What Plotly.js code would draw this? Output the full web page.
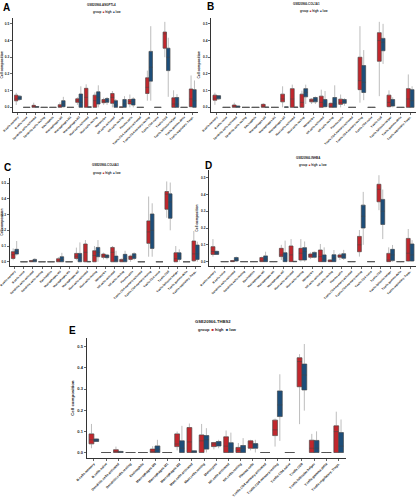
<!DOCTYPE html>
<html><head><meta charset="utf-8">
<script src="https://cdn.plot.ly/plotly-3.0.1.min.js"></script>
<style>html,body{margin:0;padding:0;background:#fff}#c{width:417px;height:500px}</style>
</head><body><div id="c"></div>
<script>
const categories = ["B.cells.memory","B.cells.naive","Dendritic.cells.activated","Dendritic.cells.resting","Eosinophils","Macrophages.M0","Macrophages.M1","Macrophages.M2","Mast.cells.activated","Mast.cells.resting","Monocytes","NK.cells.activated","NK.cells.resting","Plasma.cells","T.cells.CD4.memory.activated","T.cells.CD4.memory.resting","T.cells.CD4.naive","T.cells.CD8","T.cells.follicular.helper","T.cells.gamma.delta","T.cells.regulatory..Tregs."];
const groups = ["high","low"];
const panelTitles = ["GSE20966-ANGPTL4","GSE20966-COL1A1","GSE20966-COL6A3","GSE20966-INHBA","GSE20966-THBS2"];
const panelLetters = ["A","B","C","D","E"];
const tickVals = [0,0.1,0.2,0.3,0.4,0.5];
const Z = [0,0,0,0,0];
// each entry: [lower whisker, q1, median, q3, upper whisker]
const aHigh = [[0.014,0.039,0.05,0.073,0.087],Z,[0,0,0.004,0.012,0.028],Z,Z,[0,0,0.005,0.016,0.03],Z,[0.015,0.03,0.04,0.051,0.06],[0,0,0.06,0.114,0.138],[0,0,0.04,0.073,0.09],[0.015,0.028,0.036,0.047,0.058],[0,0.024,0.06,0.083,0.098],[0,0,0,0.003,0.006],[0,0.02,0.035,0.047,0.077],Z,[0.04,0.083,0.12,0.177,0.22],Z,[0.3,0.354,0.44,0.451,0.512],[0,0,0.02,0.057,0.102],Z,[0,0.004,0.05,0.11,0.191]];
const aLow = [[0.04,0.047,0.058,0.067,0.072],Z,[0,0,0.002,0.005,0.008],Z,Z,[0,0.004,0.02,0.04,0.063],Z,[0,0,0.03,0.08,0.126],[0,0,0,0.004,0.006],[0,0.02,0.06,0.093,0.132],[0.015,0.03,0.04,0.053,0.062],[0,0,0.015,0.04,0.05],[0,0,0.02,0.047,0.067],[0,0.014,0.03,0.05,0.06],Z,[0.04,0.157,0.24,0.335,0.486],Z,[0.063,0.22,0.3,0.354,0.417],[0,0,0.02,0.059,0.079],Z,[0,0,0.04,0.106,0.161]];
const bHigh = [[0.015,0.043,0.055,0.073,0.088],Z,[0,0,0.004,0.014,0.028],Z,Z,[0,0,0.005,0.018,0.025],Z,[0,0.033,0.05,0.079,0.126],[0,0,0.05,0.112,0.136],[0,0,0.03,0.079,0.1],[0.02,0.033,0.04,0.049,0.055],[0,0,0.03,0.067,0.106],[0,0,0.005,0.024,0.03],[0,0.018,0.03,0.049,0.077],Z,[0.028,0.106,0.16,0.3,0.486],Z,[0.067,0.276,0.4,0.447,0.512],[0,0.004,0.03,0.073,0.102],Z,[0,0,0.05,0.112,0.197]];
const bLow = [[0.045,0.051,0.062,0.07,0.074],Z,[0,0,0.002,0.008,0.01],Z,Z,[0,0,0,0.002,0.004],Z,[0,0,0,0.003,0.005],[0,0,0,0.002,0.003],[0.02,0.063,0.09,0.112,0.136],[0.02,0.033,0.045,0.059,0.065],[0,0.004,0.02,0.047,0.098],[0,0,0.02,0.059,0.132],[0.01,0.024,0.035,0.047,0.055],Z,[0.043,0.089,0.15,0.25,0.343],Z,[0.26,0.339,0.39,0.413,0.5],[0,0.008,0.02,0.047,0.06],Z,[0,0,0.04,0.106,0.126]];
const cHigh = [[0.01,0.021,0.045,0.064,0.085],Z,[0,0,0.002,0.008,0.012],Z,Z,[0,0,0.005,0.019,0.03],Z,[0.01,0.021,0.035,0.053,0.09],[0,0,0.06,0.113,0.138],[0,0,0.04,0.07,0.1],[0.015,0.028,0.038,0.049,0.058],[0,0,0.06,0.091,0.1],[0,0,0,0.015,0.02],[0,0.015,0.025,0.036,0.045],Z,[0.032,0.117,0.19,0.26,0.415],Z,[0.28,0.334,0.43,0.447,0.511],[0,0,0.02,0.057,0.1],Z,[0,0.006,0.05,0.132,0.196]];
const cLow = [[0.04,0.049,0.065,0.079,0.132],Z,[0,0,0.008,0.015,0.022],Z,Z,[0,0,0.015,0.032,0.057],Z,[0,0,0.025,0.053,0.123],[0,0,0,0.002,0.004],[0,0.032,0.06,0.091,0.138],[0.015,0.026,0.034,0.043,0.05],[0,0,0.01,0.036,0.07],[0,0,0.02,0.047,0.07],[0.01,0.021,0.035,0.051,0.06],Z,[0.032,0.085,0.2,0.304,0.372],Z,[0.2,0.277,0.38,0.432,0.504],[0,0.015,0.035,0.057,0.079],Z,[0,0.015,0.05,0.106,0.128]];
const dHigh = [[0.03,0.043,0.06,0.089,0.134],Z,[0,0,0.002,0.006,0.01],Z,Z,[0,0,0.005,0.024,0.03],Z,[0.01,0.03,0.04,0.079,0.1],[0,0,0.04,0.093,0.134],[0,0.01,0.05,0.079,0.134],[0.015,0.026,0.035,0.045,0.055],[0,0,0.03,0.069,0.105],[0,0,0.003,0.01,0.015],[0.01,0.026,0.033,0.04,0.05],Z,[0.03,0.059,0.1,0.15,0.188],Z,[0.306,0.356,0.43,0.46,0.514],[0,0,0.01,0.049,0.085],Z,[0,0.004,0.05,0.138,0.194]];
const dLow = [[0.04,0.043,0.05,0.061,0.065],Z,[0,0.004,0.012,0.024,0.03],Z,Z,[0,0,0.015,0.034,0.059],Z,[0,0,0.02,0.053,0.125],[0,0,0,0.002,0.003],[0,0.01,0.06,0.083,0.12],[0.02,0.026,0.045,0.055,0.06],[0,0,0.015,0.04,0.085],[0,0,0.02,0.041,0.069],[0.01,0.02,0.035,0.047,0.07],Z,[0.1,0.2,0.27,0.336,0.415],Z,[0.134,0.221,0.3,0.37,0.429],[0,0.006,0.04,0.073,0.099],Z,[0,0.004,0.04,0.105,0.128]];
const eHigh = [[0.02,0.041,0.06,0.088,0.135],Z,[0,0,0.004,0.013,0.028],Z,Z,[0,0,0.005,0.016,0.03],Z,[0.01,0.028,0.04,0.088,0.099],[0,0,0.05,0.118,0.137],[0,0,0.055,0.083,0.135],[0.015,0.028,0.04,0.047,0.05],[0,0,0.03,0.074,0.104],[0,0,0.01,0.024,0.045],[0.01,0.02,0.045,0.055,0.06],Z,[0.028,0.08,0.107,0.153,0.16],Z,[0.134,0.311,0.43,0.448,0.465],[0,0,0.02,0.058,0.088],Z,[0,0,0.099,0.126,0.193]];
const eLow = [[0.05,0.052,0.058,0.064,0.066],Z,[0,0,0.002,0.005,0.008],Z,Z,[0,0,0.015,0.031,0.06],Z,[0,0,0.02,0.055,0.126],[0,0,0.003,0.008,0.01],[0,0.016,0.06,0.08,0.115],[0.02,0.031,0.04,0.052,0.06],[0,0,0.02,0.046,0.094],[0,0,0.02,0.033,0.068],[0,0.02,0.035,0.042,0.06],Z,[0.055,0.17,0.225,0.291,0.37],Z,[0.198,0.296,0.366,0.418,0.513],[0,0,0.02,0.057,0.1],Z,[0,0,0.03,0.094,0.156]];
const panelData = [[aHigh,aLow],[bHigh,bLow],[cHigh,cLow],[dHigh,dLow],[eHigh,eLow]];

const colors = {high:"#C1272D", low:"#1D4E7A"};
const W = 417, H = 500;
// pixel boxes of plot areas [left, right, top, bottom]
const boxes = [[12.7,198,18,111.7],[211,416,18,111.7],[9.5,201,178.3,266],[209,416,170,266],[86.5,346,338.3,458]];
const yRanges = [[-0.026,0.535],[-0.026,0.535],[-0.027,0.531],[-0.026,0.545],[-0.026,0.54]];
const small = [true,true,true,true,false];
const titlePos = [[101,5,107,12],[306,4,314,10.5],[105,165.3,107,172.7],[308,158.5,313,164.7],[213,321.7,217,329.7]];
const letterPos = [[6,7],[210,6],[7,167],[208,165],[72,330]];
const FONT = "Liberation Sans, Arial, sans-serif";

const traces = [];
const layout = {width:W,height:H,margin:{l:0,r:0,t:0,b:0},paper_bgcolor:"#fff",plot_bgcolor:"#fff",
  boxmode:"group",boxgap:0.22,boxgroupgap:0,showlegend:false,font:{family:FONT,color:"#111"},annotations:[]};

panelData.forEach((pd,i)=>{
  const xa = i===0?"x":"x"+(i+1), ya = i===0?"y":"y"+(i+1);
  pd.forEach((arr,g)=>{
    traces.push({type:"box",x:categories,xaxis:xa,yaxis:ya,offsetgroup:groups[g],
      lowerfence:arr.map(d=>d[0]),q1:arr.map(d=>d[1]),median:arr.map(d=>d[2]),q3:arr.map(d=>d[3]),upperfence:arr.map(d=>d[4]),
      line:{color:"#BDBDBD",width:1},fillcolor:"rgba(0,0,0,0)",whiskerwidth:0,hoverinfo:"skip"});
  });
  pd.forEach((arr,g)=>{
    traces.push({type:"box",x:categories,xaxis:xa,yaxis:ya,offsetgroup:groups[g],name:groups[g],
      lowerfence:arr.map(d=>d[1]),q1:arr.map(d=>d[1]),median:arr.map(d=>d[2]),q3:arr.map(d=>d[3]),upperfence:arr.map(d=>d[3]),
      line:{color:"#444",width:0.5},fillcolor:colors[groups[g]],whiskerwidth:0,hoverinfo:"skip"});
  });
  const b = boxes[i];
  const fs = small[i]?2.8:3.3;
  const key = i===0?"":String(i+1);
  layout["xaxis"+key] = {domain:[b[0]/W,b[1]/W],anchor:ya,range:[-0.6,20.6],showline:true,linecolor:"#000",linewidth:0.8,
    ticks:"outside",ticklen:2,tickwidth:0.6,tickcolor:"#000",tickangle:-45,showgrid:false,zeroline:false,
    tickfont:{size:fs,family:FONT,weight:"bold",color:"#222"}};
  layout["yaxis"+key] = {domain:[1-b[3]/H,1-b[2]/H],anchor:xa,range:yRanges[i],showline:true,linecolor:"#000",linewidth:0.8,
    ticks:"outside",ticklen:2,tickwidth:0.6,tickcolor:"#000",tickvals:tickVals,tickformat:".1f",showgrid:false,zeroline:false,
    tickfont:{size:small[i]?3.2:4,family:FONT,weight:"bold",color:"#222"},
    title:{text:"Cell composition",standoff:2,font:{size:small[i]?3.4:4.4,family:FONT,weight:"bold",color:"#222"}}};
  const tp = titlePos[i];
  layout.annotations.push({xref:"paper",yref:"paper",x:tp[0]/W,y:1-tp[1]/H,xanchor:"center",yanchor:"middle",showarrow:false,
    text:panelTitles[i],font:{size:small[i]?2.9:4.2,family:FONT,weight:"bold",color:"#222"}});
  layout.annotations.push({xref:"paper",yref:"paper",x:tp[2]/W,y:1-tp[3]/H,xanchor:"center",yanchor:"middle",showarrow:false,
    text:"group  <span style='color:"+colors.high+"'>■</span> high  <span style='color:"+colors.low+"'>■</span> low",
    font:{size:small[i]?2.9:4,family:FONT,weight:"bold",color:"#222"}});
  const lp = letterPos[i];
  layout.annotations.push({xref:"paper",yref:"paper",x:lp[0]/W,y:1-lp[1]/H,xanchor:"center",yanchor:"middle",showarrow:false,
    text:panelLetters[i],font:{size:10,family:FONT,weight:"bold",color:"#000"}});
});

Plotly.newPlot("c",traces,layout,{staticPlot:true,displayModeBar:false});
</script></body></html>
